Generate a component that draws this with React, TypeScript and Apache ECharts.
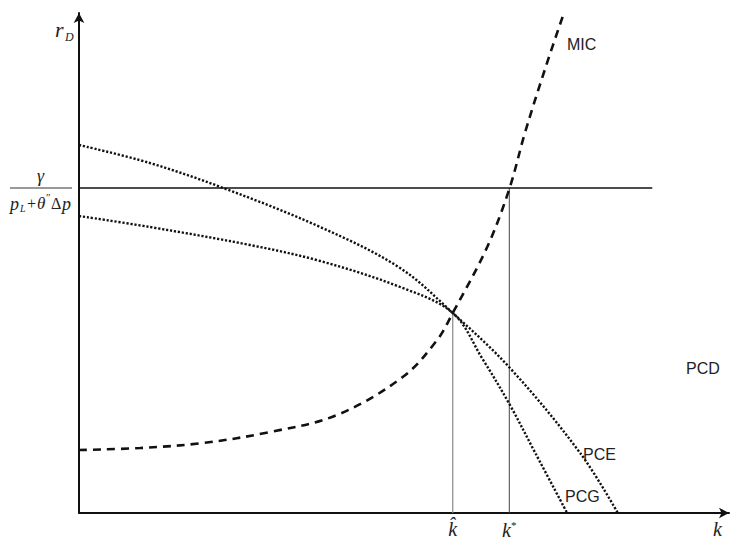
import React, { useEffect, useRef } from "react";
import * as echarts from "echarts";

// Data (abstract units: k on x, r_D on y)
const micCurve: [number, number][] = [
  [0, 1.26], [0.94, 1.3], [1.91, 1.4], [2.94, 1.62], [3.97, 1.96], [4.98, 2.72],
  [5.51, 3.46], [5.75, 4.0], [6.28, 5.32], [6.62, 6.48], [6.86, 7.6], [7.18, 8.92], [7.45, 9.96],
];
const pceCurve: [number, number][] = [
  [0, 7.36], [1.09, 7.0], [2.22, 6.5], [3.71, 5.72], [4.94, 4.9],
  [5.75, 4.0], [6.63, 2.9], [7.71, 1.2], [8.29, 0],
];
const pcgCurve: [number, number][] = [
  [0, 5.94], [1.09, 5.72], [2.63, 5.36], [3.71, 5.04], [4.94, 4.52],
  [5.75, 4.0], [6.2, 3.1], [6.63, 2.16], [7.02, 1.2], [7.51, 0],
];
const kHat = 5.75;
const kStar = 6.62;
const rHat = 4.0;
const gammaLevel = 6.5;
const gammaLineEnd = 8.82;
const xTickValues = [kHat, kStar];
const curveNames = ["MIC", "PCE", "PCG", "PCD"];

const SANS = "'Liberation Sans', Arial, sans-serif";
const SERIF = "'Liberation Serif', 'Times New Roman', serif";

export default function App() {
  const ref = useRef<HTMLDivElement>(null);
  useEffect(() => {
    if (!ref.current) return;
    const chart = echarts.init(ref.current, undefined, { renderer: "svg" });
    const lbl = (text: string, x: number, y: number) => ({
      type: "text",
      x,
      y,
      style: { text, font: `16px ${SANS}`, fill: "#222", textVerticalAlign: "middle" },
    });
    const it = (text: string, x: number, y: number, size: number, italic = true) => ({
      type: "text",
      x,
      y,
      style: {
        text,
        font: `${italic ? "italic " : ""}${size}px ${SERIF}`,
        fill: "#222",
        textVerticalAlign: "middle",
      },
    });
    chart.setOption({
      animation: false,
      backgroundColor: "#fff",
      grid: { left: 79, top: 13, width: 650, height: 500, containLabel: false, outerBoundsMode: "none" },
      xAxis: {
        type: "value",
        min: 0,
        max: 10,
        axisLine: {
          show: true,
          symbol: ["none", "arrow"],
          symbolSize: [8, 10],
          lineStyle: { color: "#111", width: 2 },
        },
        axisTick: { show: false },
        splitLine: { show: false },
        axisLabel: {
          customValues: xTickValues,
          margin: 6,
          formatter: (v: number) => (Math.abs(v - kHat) < 1e-6 ? "{k|k\u0302}" : "{k|k}{s|*}"),
          rich: {
            k: { fontFamily: SERIF, fontStyle: "italic", fontSize: 20, color: "#222" },
            s: { fontFamily: SERIF, fontSize: 11, color: "#222", verticalAlign: "top", padding: [0, 0, 10, 0] },
          },
        },
      },
      yAxis: {
        type: "value",
        min: 0,
        max: 10,
        axisLine: {
          show: true,
          symbol: ["none", "arrow"],
          symbolSize: [8, 10],
          lineStyle: { color: "#111", width: 2 },
        },
        axisTick: { show: false },
        splitLine: { show: false },
        axisLabel: { show: false },
      },
      series: [
        {
          type: "line",
          name: "kHatLine",
          data: [[kHat, 0], [kHat, rHat]],
          showSymbol: false,
          silent: true,
          lineStyle: { color: "#888", width: 1.2 },
        },
        {
          type: "line",
          name: "kStarLine",
          data: [[kStar, 0], [kStar, gammaLevel]],
          showSymbol: false,
          silent: true,
          lineStyle: { color: "#444", width: 1 },
        },
        {
          type: "line",
          name: "gamma",
          data: [[0, gammaLevel], [gammaLineEnd, gammaLevel]],
          showSymbol: false,
          silent: true,
          lineStyle: { color: "#111", width: 1.6 },
        },
        {
          type: "line",
          name: curveNames[1],
          data: pceCurve,
          smooth: 0.35,
          showSymbol: false,
          silent: true,
          lineStyle: { color: "#111", width: 2.4, type: [2.2, 1.8] },
        },
        {
          type: "line",
          name: curveNames[2],
          data: pcgCurve,
          smooth: 0.35,
          showSymbol: false,
          silent: true,
          lineStyle: { color: "#111", width: 2.4, type: [2.2, 1.8] },
        },
        {
          type: "line",
          name: curveNames[0],
          data: micCurve,
          smooth: 0.35,
          showSymbol: false,
          silent: true,
          lineStyle: { color: "#111", width: 2.6, type: [8, 6] },
        },
      ],
      graphic: [
        lbl(curveNames[0], 567, 44),
        lbl(curveNames[1], 583, 454),
        lbl(curveNames[2], 565, 496),
        lbl(curveNames[3], 686, 368),
        // y-axis name r_D
        it("r", 55, 29, 22),
        it("D", 65, 37, 12),
        // x-axis name k
        it("k", 713, 529, 20),
        // fraction gamma / (p_L + theta'' Δp)
        it("γ", 37, 176, 18),
        { type: "line", shape: { x1: 10, y1: 188, x2: 72, y2: 188 }, style: { stroke: "#333", lineWidth: 1 } },
        it("p", 10, 204, 18),
        it("L", 20, 208, 10),
        it("+", 27, 203, 16, false),
        it("θ", 37, 203, 17),
        it("\u2033", 46, 197, 11, false),
        it("Δ", 51, 203, 16, false),
        it("p", 62, 204, 18),
      ],
    });
    return () => chart.dispose();
  }, []);
  return <div ref={ref} style={{ position: "fixed", left: 0, top: 0, width: 732, height: 540 }} />;
}
